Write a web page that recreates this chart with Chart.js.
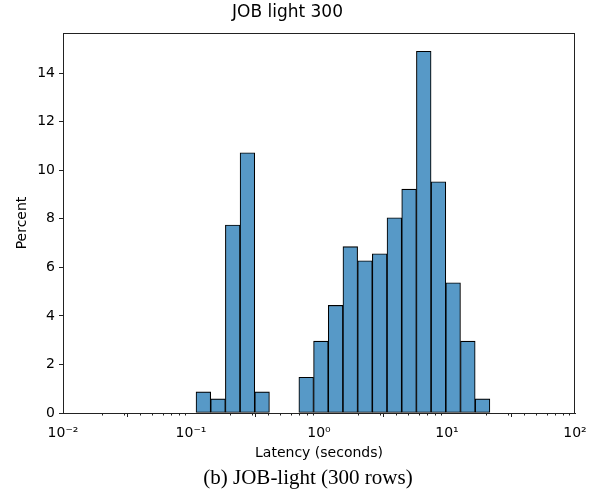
<!DOCTYPE html>
<html>
<head>
<meta charset="utf-8">
<script src="https://cdn.jsdelivr.net/npm/chart.js"></script>
<style>
  html, body { margin: 0; padding: 0; background: #fff; }
  #wrap { position: relative; width: 598px; height: 493px; }
  #caption {
    position: absolute; left: 0; width: 616px; top: 465px;
    text-align: center; font: 21px/24px 'Liberation Serif', serif; color: #000;
  }
</style>
</head>
<body>
<div id="wrap">
  <canvas id="hist"></canvas>
  <div id="caption">(b) JOB-light (300 rows)</div>
</div>
<script>
// bin centres (seconds)
const binCenters = [0.1249, 0.1626, 0.2118, 0.2759, 0.3593, 0.4681, 0.6097, 0.7943,
  1.0347, 1.3477, 1.7556, 2.2871, 2.9785, 3.8798, 5.0535, 6.5824, 8.5750,
  11.169, 14.550, 18.954];
// percent of queries per bin (null = empty bin)
const percents = [0.87, 0.58, 7.74, 10.72, 0.87, null, null, 1.47,
  2.96, 4.43, 6.85, 6.27, 6.56, 8.04, 9.22, 14.9, 9.52,
  5.36, 2.96, 0.58];
const xMajorTicks = [0.01, 0.1, 1, 10, 100];
const xTickLabels = ['10\u207B\u00B2', '10\u207B\u00B9', '10\u2070', '10\u00B9', '10\u00B2'];
const xMinorTicks = [];
[0.01, 0.1, 1, 10].forEach(d => { for (let k = 2; k <= 9; k++) xMinorTicks.push(d * k); });
const yTicks = [0, 2, 4, 6, 8, 10, 12, 14];

const axisColor = '#222';
const font = { family: 'DejaVu Sans', size: 14 };

const frameAndMinor = {
  id: 'frameAndMinor',
  afterDraw(chart) {
    const { ctx, chartArea: a } = chart;
    const x = chart.scales.x;
    ctx.save();
    ctx.strokeStyle = axisColor;
    ctx.lineWidth = 1;
    ctx.strokeRect(a.left + 0.5, a.top + 0.5, a.right - a.left - 1, a.bottom - a.top);
    ctx.beginPath();
    xMinorTicks.forEach(v => {
      const px = Math.round(x.getPixelForValue(v)) + 0.5;
      ctx.moveTo(px, a.bottom);
      ctx.lineTo(px, a.bottom + 2.5);
    });
    ctx.stroke();
    ctx.restore();
  }
};

Chart.defaults.font.family = 'DejaVu Sans';
Chart.defaults.color = axisColor;

new Chart('hist', {
  type: 'bar',
  data: {
    datasets: [{
      data: binCenters.map((c, i) => ({ x: c, y: percents[i] })),
      backgroundColor: 'rgb(87,153,199)',
      borderColor: '#000',
      borderWidth: 1.1,
      borderSkipped: false,
      barPercentage: 1,
      categoryPercentage: 1
    }]
  },
  options: {
    responsive: true,
    maintainAspectRatio: false,
    animation: false,
    layout: { padding: { left: 0, right: 23, top: 0, bottom: 29 } },
    plugins: {
      legend: { display: false },
      tooltip: { enabled: false },
      title: {
        display: true,
        text: 'JOB light 300',
        font: { family: 'DejaVu Sans', size: 17, weight: 'normal' },
        color: '#000',
        padding: { top: 2, bottom: 10.6 }
      }
    },
    scales: {
      x: {
        type: 'logarithmic',
        min: 0.01,
        max: 100,
        offset: false,
        afterBuildTicks: s => { s.ticks = xMajorTicks.map(v => ({ value: v })); },
        afterFit: s => { s.height = 51; },
        ticks: {
          font,
          color: '#000',
          padding: 8,
          maxRotation: 0,
          autoSkip: false,
          callback: (v) => xTickLabels[xMajorTicks.indexOf(v)] || ''
        },
        grid: { drawOnChartArea: false, tickLength: 4, tickColor: axisColor },
        border: { color: axisColor, width: 1 },
        title: {
          display: true,
          text: 'Latency (seconds)',
          font,
          color: '#000',
          padding: { top: 2, bottom: 2 }
        }
      },
      y: {
        min: 0,
        max: 15.65,
        afterBuildTicks: s => { s.ticks = yTicks.map(v => ({ value: v })); },
        afterFit: s => { s.width = 63; },
        ticks: { font, color: '#000', padding: 4 },
        grid: { drawOnChartArea: false, tickLength: 4, tickColor: axisColor },
        border: { color: axisColor, width: 1 },
        title: {
          display: true,
          text: 'Percent',
          font,
          color: '#000',
          padding: { top: 14, bottom: 6 }
        }
      }
    }
  },
  plugins: [frameAndMinor]
});
</script>
</body>
</html>
